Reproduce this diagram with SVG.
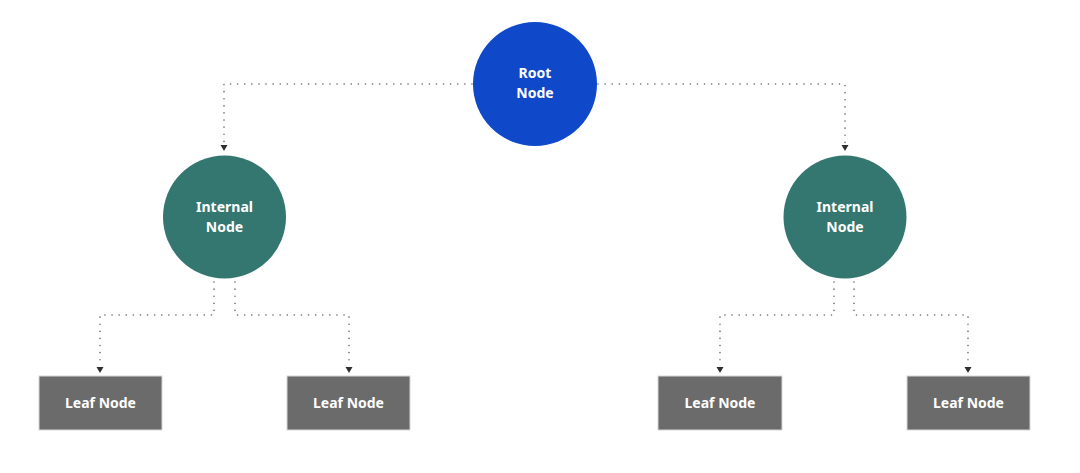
<svg xmlns="http://www.w3.org/2000/svg" width="1080" height="473" viewBox="0 0 1080 473">
<style>
.conn{fill:none;stroke:#6e6e6e;stroke-width:1.6;stroke-dasharray:0.1 7;stroke-linecap:round}
.lbl{font-family:"Noto Sans","Open Sans",sans-serif;font-weight:700;font-size:14px;fill:#ffffff;text-anchor:middle}
.root{fill:#0f48c8}
.internal{fill:#347770}
.leaf{fill:#6b6b6b;stroke:#d8d8d8;stroke-width:1}
.head{fill:#2e2e2e}
</style>
<rect width="1080" height="473" fill="#ffffff"/>
<g id="connectors">
<path class="conn" d="M472,84 H224 V143"/>
<path class="conn" d="M598,84 H845 V143"/>
<path class="conn" d="M214,282 V315 H100 V366"/>
<path class="conn" d="M235,282 V315 H349 V366"/>
<path class="conn" d="M834,282 V315 H720 V366"/>
<path class="conn" d="M854,282 V315 H968 V366"/>
<path class="head" d="M220.5,145 H227.5 L224,151 Z"/>
<path class="head" d="M841.5,145 H848.5 L845,151 Z"/>
<path class="head" d="M96.5,367 H103.5 L100,373 Z"/>
<path class="head" d="M345.5,367 H352.5 L349,373 Z"/>
<path class="head" d="M716.5,367 H723.5 L720,373 Z"/>
<path class="head" d="M964.5,367 H971.5 L968,373 Z"/>
</g>
<g id="root">
<circle class="root" cx="535" cy="84" r="62"/>
<text class="lbl" x="535" y="78">Root</text>
<text class="lbl" x="535" y="98">Node</text>
</g>
<g id="internal-left">
<circle class="internal" cx="224.5" cy="217" r="61.5"/>
<text class="lbl" x="224.5" y="212">Internal</text>
<text class="lbl" x="224.5" y="232">Node</text>
</g>
<g id="internal-right">
<circle class="internal" cx="845" cy="217" r="61.5"/>
<text class="lbl" x="845" y="212">Internal</text>
<text class="lbl" x="845" y="232">Node</text>
</g>
<g id="leaf-1">
<rect class="leaf" x="39" y="376" width="123" height="54"/>
<text class="lbl" x="100.5" y="408">Leaf Node</text>
</g>
<g id="leaf-2">
<rect class="leaf" x="287" y="376" width="123" height="54"/>
<text class="lbl" x="348.5" y="408">Leaf Node</text>
</g>
<g id="leaf-3">
<rect class="leaf" x="658" y="376" width="124" height="54"/>
<text class="lbl" x="720" y="408">Leaf Node</text>
</g>
<g id="leaf-4">
<rect class="leaf" x="907" y="376" width="123" height="54"/>
<text class="lbl" x="968.5" y="408">Leaf Node</text>
</g>
</svg>
